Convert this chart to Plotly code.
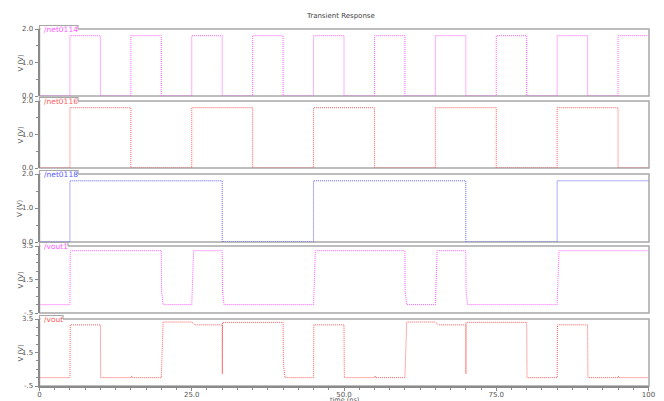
import plotly.graph_objects as go

W, H = 664, 401

# ---------------- data ----------------
signal_names = ["/net0114", "/net0116", "/net0118", "/vout1", "/vout"]

net0114_t = [0, 5, 10, 15, 20, 25, 30, 35, 40, 45, 50, 55, 60, 65, 70, 75, 80, 85, 90, 95, 100]
net0114_v = [0, 1.8, 0, 1.8, 0, 1.8, 0, 1.8, 0, 1.8, 0, 1.8, 0, 1.8, 0, 1.8, 0, 1.8, 0, 1.8, 1.8]

net0116_t = [0, 5, 15, 25, 35, 45, 55, 65, 75, 85, 95, 100]
net0116_v = [0, 1.8, 0, 1.8, 0, 1.8, 0, 1.8, 0, 1.8, 0, 0]

net0118_t = [0, 5, 30, 45, 70, 85, 100]
net0118_v = [0, 1.8, 0, 1.8, 0, 1.8, 1.8]

vout1_t = [0, 5, 5.05, 20, 20.05, 20.3, 25, 25.3, 30, 30.05, 30.3, 45, 45.3,
           60, 60.05, 60.3, 65, 65.3, 70, 70.05, 70.3, 85, 85.3, 100]
vout1_v = [0, 0, 3.22, 3.22, 0.8, 0, 0, 3.22, 3.22, 0.8, 0, 0, 3.22,
           3.22, 0.8, 0, 0, 3.22, 3.22, 0.8, 0, 0, 3.22, 3.22]

vout_t = [0, 5, 5.05, 10, 10.05, 15, 15.1, 15.2, 20, 20.3, 25, 25.5, 30, 30.02, 30.05,
          40, 40.05, 40.3, 45, 45.05, 50, 50.05, 55, 55.1, 55.2, 60, 60.3, 65, 65.5,
          70, 70.02, 70.05, 80, 80.05, 85, 85.05, 90, 90.05, 95, 95.1, 95.2, 100]
vout_v = [0, 0, 3.15, 3.15, 0, 0, 0.1, 0, 0, 3.32, 3.32, 3.15, 3.15, 0.22, 3.3,
          3.3, 0.87, 0, 0, 3.15, 3.15, 0, 0, 0.1, 0, 0, 3.32, 3.32, 3.15,
          3.15, 0.22, 3.3, 3.3, 0, 0, 3.15, 3.15, 0, 0, 0.1, 0, 0]

top_ticks = [0, 1, 2]
top_ticktext = ["0.0", "1.0", "2.0"]
bot_ticks = [-0.5, 1.5, 3.5]
bot_ticktext = ["-.5", "1.5", "3.5"]
x_ticks = [0, 25, 50, 75, 100]
x_ticktext = ["0", "25.0", "50.0", "75.0", "100"]

# ---------------- layout helpers ----------------
def px(x):
    return x / W

def py(y):
    return 1 - y / H

FONT = "DejaVu Sans"
colors = ["#ff5cff", "#ff5c5c", "#5c5cff", "#ff5cff", "#ff5c5c"]
panels_px = [(29, 96), (101, 168), (174, 242), (246, 313), (319, 386)]
tab_right = [78, 78, 78, 68, 63]
x0px, x1px = 39.5, 648.5

series = [(net0114_t, net0114_v), (net0116_t, net0116_v), (net0118_t, net0118_v),
          (vout1_t, vout1_v), (vout_t, vout_v)]
shapes_hv = [True, True, True, False, False]

fig = go.Figure()
layout = dict(
    width=W, height=H, margin=dict(l=0, r=0, t=0, b=0),
    paper_bgcolor="white", plot_bgcolor="white", showlegend=False,
    template="none",
)
shapes = []
annotations = []

for i in range(5):
    n = i + 1
    xa = "x" if n == 1 else f"x{n}"
    ya = "y" if n == 1 else f"y{n}"
    t, v = series[i]
    fig.add_trace(go.Scatter(
        x=t, y=v, mode="lines", xaxis=xa, yaxis=ya,
        line=dict(color=colors[i], width=1, dash="1px,1px",
                  shape="hv" if shapes_hv[i] else "linear"),
        hoverinfo="skip",
    ))
    top, bot = panels_px[i]
    is_bot = n == 5
    xkey = "xaxis" if n == 1 else f"xaxis{n}"
    ykey = "yaxis" if n == 1 else f"yaxis{n}"
    layout[xkey] = dict(
        domain=[px(x0px), px(x1px)], anchor=ya, range=[0, 100],
        showgrid=False, zeroline=False, automargin=False,
        showline=is_bot, linecolor="#8a8a8a", linewidth=2,
        ticks="outside" if is_bot else "", ticklen=3, tickcolor="#8a8a8a",
        tickvals=x_ticks, ticktext=x_ticktext, showticklabels=is_bot,
        ticklabelstandoff=-2,
        tickfont=dict(family=FONT, size=7, color="#555555"),
        minor=dict(dtick=2.5, ticks="outside" if is_bot else "", ticklen=2,
                   tickcolor="#8a8a8a", showgrid=False),
    )
    if n != 1:
        layout[xkey]["matches"] = "x"
    yr = [0, 2] if i < 3 else [-0.5, 3.5]
    layout[ykey] = dict(
        domain=[py(bot), py(top)], anchor=xa, range=yr,
        showgrid=False, zeroline=False, automargin=False,
        showline=True, linecolor="#8a8a8a", linewidth=2,
        ticks="outside", ticklen=3, tickcolor="#8a8a8a",
        tickvals=top_ticks if i < 3 else bot_ticks,
        ticktext=top_ticktext if i < 3 else bot_ticktext,
        tickfont=dict(family=FONT, size=7, color="#555555"),
        minor=dict(dtick=0.5, tick0=yr[0], ticks="outside", ticklen=2,
                   tickcolor="#8a8a8a", showgrid=False),
    )
    # panel frame
    shapes.append(dict(type="rect", xref="paper", yref="paper",
                       x0=px(x0px), x1=px(x1px + 0.5), y0=py(bot), y1=py(top),
                       line=dict(color="#a8a8a8", width=1.5), layer="below"))
    # label tab
    shapes.append(dict(type="rect", xref="paper", yref="paper",
                       x0=px(x0px + 1), x1=px(tab_right[i]), y0=py(top + 2.5), y1=py(top - 3.5),
                       fillcolor="white", line=dict(width=0), layer="above"))
    shapes.append(dict(type="path", xref="paper", yref="paper",
                       path=f"M {px(x0px)},{py(top)} L {px(x0px)},{py(top - 3.5)} "
                            f"L {px(tab_right[i])},{py(top - 3.5)} L {px(tab_right[i])},{py(top)}",
                       line=dict(color="#a8a8a8", width=1.2), layer="above"))
    annotations.append(dict(xref="paper", yref="paper", x=px(x0px + 2), y=py(top + 0.5),
                            xanchor="left", yanchor="middle", showarrow=False,
                            text=signal_names[i],
                            font=dict(family=FONT, size=7.5, color=colors[i])))
    annotations.append(dict(xref="paper", yref="paper", x=px(20), y=py((top + bot) / 2),
                            xanchor="center", yanchor="middle", showarrow=False,
                            text="V (V)", textangle=-90,
                            font=dict(family=FONT, size=7, color="#555555")))

annotations.append(dict(xref="paper", yref="paper", x=px(340), y=py(16),
                        xanchor="center", yanchor="middle", showarrow=False,
                        text="Transient Response",
                        font=dict(family=FONT, size=7, color="#444444")))
annotations.append(dict(xref="paper", yref="paper", x=px(344), y=py(400),
                        xanchor="center", yanchor="middle", showarrow=False,
                        text="time (ns)",
                        font=dict(family=FONT, size=6.5, color="#555555")))

layout["shapes"] = shapes
layout["annotations"] = annotations
fig.update_layout(**layout)
fig.write_html(
    "out.html",
    config={"displayModeBar": False},
    post_script="document.body.style.margin='0';document.body.style.overflow='hidden';",
)
